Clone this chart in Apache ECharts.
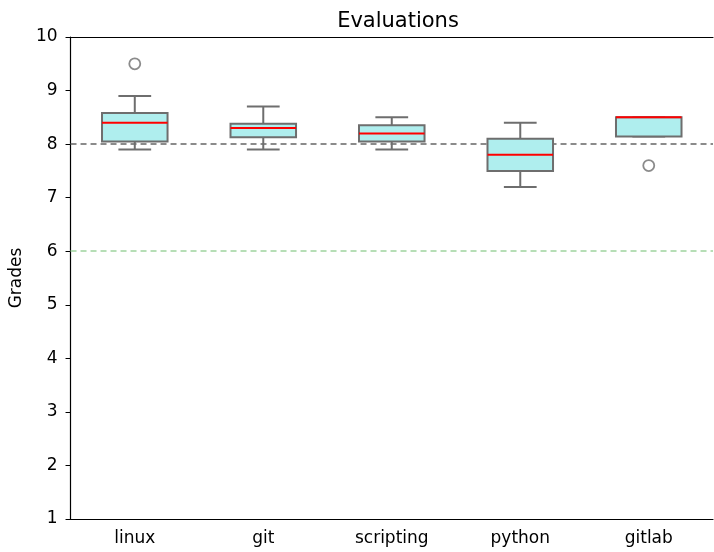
<!DOCTYPE html>
<html><head><meta charset="utf-8">
<script src="https://cdn.jsdelivr.net/npm/echarts@6/dist/echarts.min.js"></script>
<style>html,body{margin:0;padding:0;background:#fff}#c{width:714px;height:552px}</style>
</head><body><div id="c"></div>
<script>
var categories = ['linux', 'git', 'scripting', 'python', 'gitlab'];
// [lower whisker, Q1, median, Q3, upper whisker]
var linuxStats = [7.9, 8.05, 8.4, 8.58, 8.9];
var gitStats = [7.9, 8.13, 8.3, 8.38, 8.7];
var scriptingStats = [7.9, 8.05, 8.2, 8.35, 8.5];
var pythonStats = [7.2, 7.5, 7.8, 8.1, 8.4];
var gitlabStats = [8.14, 8.14, 8.5, 8.5, 8.5];
var outliers = [['linux', 9.5], ['gitlab', 7.6]];
var refLines = [8, 6];
var yTicks = [1, 2, 3, 4, 5, 6, 7, 8, 9, 10];

var boxData = [linuxStats, gitStats, scriptingStats, pythonStats, gitlabStats];
var FONT = 'DejaVu Sans';
var GRAY = '#6e6e6e';
var chart = echarts.init(document.getElementById('c'));
chart.setOption({
  animation: false,
  title: {text: 'Evaluations', left: 393, top: 6, textAlign: 'center',
    textStyle: {fontFamily: FONT, fontSize: 21, fontWeight: 'normal', color: '#000'}},
  grid: {left: 69, right: 1, top: 37, bottom: 33},
  xAxis: [{
    type: 'category', data: categories, position: 'bottom',
    axisLine: {lineStyle: {color: '#000', width: 1.2}},
    axisTick: {alignWithLabel: true, length: 5, lineStyle: {color: '#000'}},
    axisLabel: {fontFamily: FONT, fontSize: 17, color: '#000', margin: 11},
    splitLine: {show: false}
  }, {
    type: 'category', data: categories, position: 'top',
    axisLine: {lineStyle: {color: '#000', width: 1.2}},
    axisTick: {show: false}, axisLabel: {show: false}
  }],
  yAxis: [{
    type: 'value', min: 1, max: 10, interval: 1,
    name: 'Grades', nameLocation: 'middle', nameGap: 42, nameRotate: 90,
    nameTextStyle: {fontFamily: FONT, fontSize: 17, color: '#000'},
    axisLine: {show: true, lineStyle: {color: '#000', width: 1.2}},
    axisTick: {show: true, length: 5, lineStyle: {color: '#000'}},
    axisLabel: {fontFamily: FONT, fontSize: 17, color: '#000', margin: 13},
    splitLine: {show: false}
  }],
  series: [{
    type: 'custom',
    data: boxData.map(function (d, i) { return [i].concat(d); }),
    renderItem: function (params, api) {
      var i = api.value(0);
      var band = api.size([1, 0])[0];
      var hw = band * 0.255, cw = hw / 2;
      var cx = api.coord([i, 0])[0];
      var y = function (k) { return api.coord([i, api.value(k)])[1]; };
      var lo = y(1), q1 = y(2), md = y(3), q3 = y(4), hi = y(5);
      var ls = {stroke: GRAY, lineWidth: 2};
      return {type: 'group', children: [
        {type: 'line', shape: {x1: cx, y1: q3, x2: cx, y2: hi}, style: ls},
        {type: 'line', shape: {x1: cx, y1: q1, x2: cx, y2: lo}, style: ls},
        {type: 'line', shape: {x1: cx - cw, y1: hi, x2: cx + cw, y2: hi}, style: ls},
        {type: 'line', shape: {x1: cx - cw, y1: lo, x2: cx + cw, y2: lo}, style: ls},
        {type: 'rect', shape: {x: cx - hw, y: q3, width: 2 * hw, height: q1 - q3},
          style: {fill: '#afeeee', stroke: GRAY, lineWidth: 2}},
        {type: 'line', shape: {x1: cx - hw, y1: md, x2: cx + hw, y2: md},
          style: {stroke: '#ff0000', lineWidth: 2}}
      ]};
    },
    markLine: {
      symbol: 'none', silent: true, label: {show: false}, z: 1,
      data: [
        {yAxis: refLines[0], lineStyle: {color: '#666', type: [6, 4], width: 1.5}},
        {yAxis: refLines[1], lineStyle: {color: '#9fd49f', type: [6, 4], width: 1.5}}
      ]
    },
    z: 3
  }, {
    type: 'scatter',
    data: outliers,
    symbol: 'circle', symbolSize: 11,
    itemStyle: {color: 'rgba(0,0,0,0)', borderColor: GRAY, borderWidth: 1.8},
    z: 5
  }]
});
</script></body></html>
